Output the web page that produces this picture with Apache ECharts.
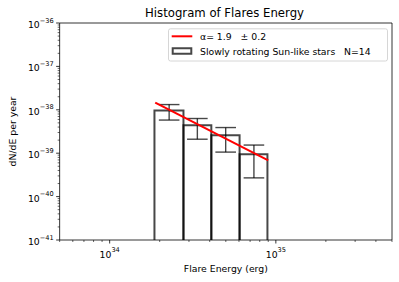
<!DOCTYPE html>
<html>
<head>
<meta charset="utf-8">
<script src="https://cdn.jsdelivr.net/npm/echarts@6/dist/echarts.min.js"></script>
<style>html,body{margin:0;padding:0;background:#fff;}#c{width:399px;height:282px;}</style>
</head>
<body>
<div id="c"></div>
<script>
var binLeft  = [1.86e34, 2.78e34, 4.09e34, 6.05e34];
var binRight = [2.78e34, 4.09e34, 6.05e34, 8.90e34];
var binValue = [9.6e-39, 4.4e-39, 2.6e-39, 9.5e-40];
var errX     = [2.28e34, 3.37e34, 4.99e34, 7.38e34];
var errLow   = [5.8e-39, 2.1e-39, 1.06e-39, 2.7e-40];
var errHigh  = [1.32e-38, 6.3e-39, 3.9e-39, 1.54e-39];
var fitX     = [1.88e34, 9.0e34];
var fitY     = [1.47e-38, 6.8e-40];
var xMajorTicks = [1e34, 1e35];
var yMajorTicks = [1e-41, 1e-40, 1e-39, 1e-38, 1e-37, 1e-36];
var xMinorTicks = [5e33,6e33,7e33,8e33,9e33, 2e34,3e34,4e34,5e34,6e34,7e34,8e34,9e34, 2e35,3e35,4e35,5e35];
var yMinorTicks = [];
[-41,-40,-39,-38,-37].forEach(function(d){ for (var m=2;m<=9;m++) yMinorTicks.push(Number(m+'e'+d)); });
var titleText = 'Histogram of Flares Energy';
var xName = 'Flare Energy (erg)';
var yName = 'dN/dE per year';
var fitLabel = 'α= 1.9   ± 0.2';
var histLabel = 'Slowly rotating Sun-like stars   N=14';

var X_MIN = 5e33, X_MAX = 5e35, Y_MIN = 1e-41, Y_MAX = 1e-36;
var FONT = 'DejaVu Sans';
var EDGE = 'rgba(0,0,0,0.72)';
var lg = function(v){ return Math.log(v) / Math.LN10; };

function supLabel(e) {
  var r = Math.round(e);
  if (Math.abs(e - r) > 0.01) return '';
  return '{b|10}{s|' + (r < 0 ? '\u2212' + (-r) : r) + '}';
}
var richSup = {
  b: {fontFamily: FONT, fontSize: 9.3, color: '#000', fill: '#000', lineHeight: 12, verticalAlign: 'bottom'},
  s: {fontFamily: FONT, fontSize: 6.6, color: '#000', fill: '#000', lineHeight: 5, verticalAlign: 'top'}
};

var barData = binLeft.map(function(l, i){ return [lg(l), lg(binRight[i]), lg(binValue[i])]; });
var errData = errX.map(function(x, i){ return [lg(x), lg(errLow[i]), lg(errHigh[i])]; });
var fitData = fitX.map(function(x, i){ return [lg(x), lg(fitY[i])]; });
var xLabelData = xMajorTicks.map(function(v){ return [lg(v), lg(Y_MIN)]; });
var tickData = [];
xMajorTicks.forEach(function(v){ tickData.push([lg(v), lg(Y_MIN), 0, 3.5, 0.8]); });
xMinorTicks.forEach(function(v){ tickData.push([lg(v), lg(Y_MIN), 0, 2, 0.6]); });
yMajorTicks.forEach(function(v){ tickData.push([lg(X_MIN), lg(v), 1, 3.5, 0.8]); });
yMinorTicks.forEach(function(v){ tickData.push([lg(X_MIN), lg(v), 1, 2, 0.6]); });

var chart = echarts.init(document.getElementById('c'), null, {renderer: 'svg'});
chart.setOption({
  animation: false,
  backgroundColor: '#fff',
  title: {
    text: titleText, left: 224.5, top: 7, padding: 0, textAlign: 'center',
    textStyle: {fontFamily: FONT, fontSize: 11.7, fontWeight: 'normal', color: '#000'}
  },
  grid: {left: 57, right: 7, top: 23, bottom: 42, show: true, borderColor: '#000', borderWidth: 0.8},
  xAxis: {
    type: 'value', min: lg(X_MIN), max: lg(X_MAX),
    name: xName, nameLocation: 'middle', nameGap: 24,
    nameTextStyle: {fontFamily: FONT, fontSize: 9.3, color: '#000'},
    axisLine: {show: false}, axisTick: {show: false}, splitLine: {show: false}, minorTick: {show: false},
    axisLabel: {show: false}
  },
  yAxis: {
    type: 'value', min: lg(Y_MIN), max: lg(Y_MAX), interval: 1,
    name: yName, nameLocation: 'middle', nameGap: 42,
    nameTextStyle: {fontFamily: FONT, fontSize: 9.3, color: '#000'},
    axisLine: {show: false}, axisTick: {show: false}, splitLine: {show: false}, minorTick: {show: false},
    axisLabel: {margin: 6, formatter: supLabel, rich: richSup}
  },
  series: [
    {
      type: 'custom', name: 'hist', data: barData, z: 2,
      encode: {x: [0, 1], y: 2},
      renderItem: function(params, api){
        var pTL = api.coord([api.value(0), api.value(2)]);
        var pBR = api.coord([api.value(1), lg(Y_MIN)]);
        return {type: 'polyline', shape: {points: [[pTL[0], pBR[1]], [pTL[0], pTL[1]], [pBR[0], pTL[1]], [pBR[0], pBR[1]]]},
          style: {fill: 'none', stroke: EDGE, lineWidth: 2}};
      }
    },
    {
      type: 'custom', name: 'err', data: errData, z: 3,
      encode: {x: 0, y: [1, 2]},
      renderItem: function(params, api){
        var lo = api.coord([api.value(0), api.value(1)]);
        var hi = api.coord([api.value(0), api.value(2)]);
        var c = 10.3, st = {stroke: EDGE, lineWidth: 1.4};
        return {type: 'group', children: [
          {type: 'line', shape: {x1: lo[0], y1: lo[1], x2: hi[0], y2: hi[1]}, style: st},
          {type: 'line', shape: {x1: lo[0]-c, y1: lo[1], x2: lo[0]+c, y2: lo[1]}, style: st},
          {type: 'line', shape: {x1: hi[0]-c, y1: hi[1], x2: hi[0]+c, y2: hi[1]}, style: st}
        ]};
      }
    },
    {
      type: 'line', name: 'fit', data: fitData, z: 4, symbol: 'none',
      lineStyle: {color: '#ff0000', width: 2}, itemStyle: {color: '#ff0000'}
    },
    {
      type: 'custom', name: 'ticks', data: tickData, z: 5, clip: false, silent: true,
      renderItem: function(params, api){
        var p = api.coord([api.value(0), api.value(1)]);
        var L = api.value(3), w = api.value(4);
        var sh = api.value(2) === 0 ? {x1: p[0], y1: p[1], x2: p[0], y2: p[1] + L}
                                    : {x1: p[0] - L, y1: p[1], x2: p[0], y2: p[1]};
        return {type: 'line', shape: sh, style: {stroke: '#000', lineWidth: w}};
      }
    },
    {
      type: 'custom', name: 'xlabels', data: xLabelData, z: 5, clip: false, silent: true,
      renderItem: function(params, api){
        var p = api.coord([api.value(0), api.value(1)]);
        return {type: 'text', x: p[0], y: p[1] + 6.5,
          style: {text: supLabel(api.value(0)), rich: richSup, align: 'center', verticalAlign: 'top', fill: '#000'}};
      }
    }
  ],
  graphic: [
    {type: 'rect', shape: {x: 168.5, y: 28.8, width: 219, height: 32.2, r: 2}, style: {fill: 'rgba(255,255,255,0.8)', stroke: '#cccccc', lineWidth: 0.8}, z: 10},
    {type: 'line', shape: {x1: 171.7, y1: 36.3, x2: 192.3, y2: 36.3}, style: {stroke: '#ff0000', lineWidth: 2}, z: 11},
    {type: 'rect', shape: {x: 172.7, y: 48.2, width: 18.6, height: 5.6}, style: {fill: 'none', stroke: EDGE, lineWidth: 2}, z: 11},
    {type: 'text', x: 200, y: 36.3, style: {text: fitLabel, fontFamily: FONT, fontSize: 9.3, fill: '#000', verticalAlign: 'middle'}, z: 11},
    {type: 'text', x: 200, y: 51, style: {text: histLabel, fontFamily: FONT, fontSize: 9.3, fill: '#000', verticalAlign: 'middle'}, z: 11}
  ]
});
</script>
</body>
</html>
